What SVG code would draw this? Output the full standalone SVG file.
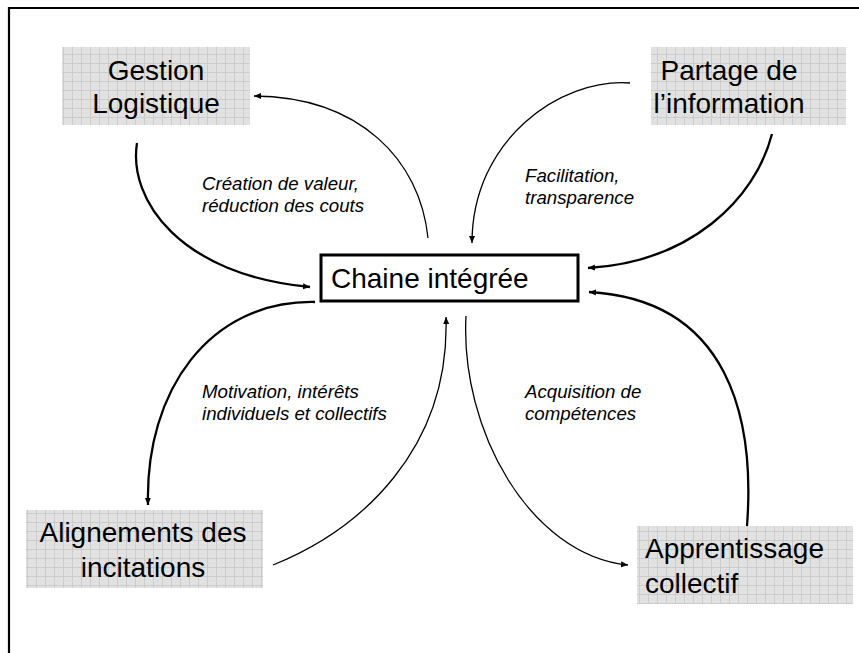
<svg xmlns="http://www.w3.org/2000/svg" width="859" height="653" viewBox="0 0 859 653">
<defs>
<pattern id="grid" width="9" height="9" patternUnits="userSpaceOnUse">
<rect width="9" height="9" fill="#e2e2e2"/>
<path d="M0,0.5H9M0.5,0V9" stroke="#cbcbcb" stroke-width="1"/>
<path d="M0,5H9M5,0V9" stroke="#d9d9d9" stroke-width="0.6" stroke-dasharray="1,1"/>
</pattern>
<marker id="ah" markerUnits="userSpaceOnUse" markerWidth="9" markerHeight="8" refX="7" refY="4" orient="auto">
<path d="M0,1 L7,4 L0,7 Z" fill="#000"/>
</marker>
</defs>
<style>
.node{font-family:"Liberation Sans",Arial,sans-serif;font-size:28px;fill:#000}
.lbl{font-family:"Liberation Sans",Arial,sans-serif;font-size:18.7px;font-style:italic;fill:#000}
.box{fill:url(#grid)}
.thick{fill:none;stroke:#000;stroke-width:2.3}
.thin{fill:none;stroke:#000;stroke-width:1.3}
</style>
<rect width="859" height="653" fill="#fff"/>
<path d="M9,653 V8 H859" fill="none" stroke="#000" stroke-width="2.2"/>

<g id="gestion">
<rect class="box" x="62" y="47" width="188" height="78"/>
<text class="node" x="156" y="80" text-anchor="middle">Gestion</text>
<text class="node" x="156" y="113" text-anchor="middle">Logistique</text>
</g>
<g id="partage">
<rect class="box" x="651" y="47" width="195" height="78"/>
<text class="node" x="729" y="80" text-anchor="middle">Partage de</text>
<text class="node" x="729" y="113" text-anchor="middle">l’information</text>
</g>
<g id="alignements">
<rect class="box" x="26" y="510" width="237" height="78"/>
<text class="node" x="143" y="542" text-anchor="middle">Alignements des</text>
<text class="node" x="143" y="577" text-anchor="middle">incitations</text>
</g>
<g id="apprentissage">
<rect class="box" x="637" y="526" width="216" height="78"/>
<text class="node" x="645" y="558">Apprentissage</text>
<text class="node" x="645" y="593">collectif</text>
</g>
<g id="chaine">
<rect x="321" y="255" width="257" height="46" fill="#fff" stroke="#000" stroke-width="3"/>
<text class="node" x="331" y="288">Chaine intégrée</text>
</g>

<g id="connectors">
<path class="thick" d="M137,143 C128,200 180,275 310,287" marker-end="url(#ah)"/>
<path class="thin" d="M428,238 C420,160 360,97 254,96" marker-end="url(#ah)"/>
<path class="thin" d="M630,83 C560,78 472,140 472,243" marker-end="url(#ah)"/>
<path class="thick" d="M772,134 C755,200 690,262 588,268" marker-end="url(#ah)"/>
<path class="thick" d="M747,526 C755,420 730,300 589,292" marker-end="url(#ah)"/>
<path class="thin" d="M466,316 C460,430 530,555 628,565" marker-end="url(#ah)"/>
<path class="thin" d="M273,565 C360,530 450,450 446,317" marker-end="url(#ah)"/>
<path class="thick" d="M315,302 C210,300 145,390 148,505" marker-end="url(#ah)"/>
</g>

<g id="labels">
<text class="lbl" x="202" y="190">Création de valeur,</text>
<text class="lbl" x="202" y="212">réduction des couts</text>
<text class="lbl" x="525" y="182">Facilitation,</text>
<text class="lbl" x="525" y="204">transparence</text>
<text class="lbl" x="202" y="398">Motivation, intérêts</text>
<text class="lbl" x="202" y="420">individuels et collectifs</text>
<text class="lbl" x="525" y="398">Acquisition de</text>
<text class="lbl" x="525" y="420">compétences</text>
</g>
</svg>
